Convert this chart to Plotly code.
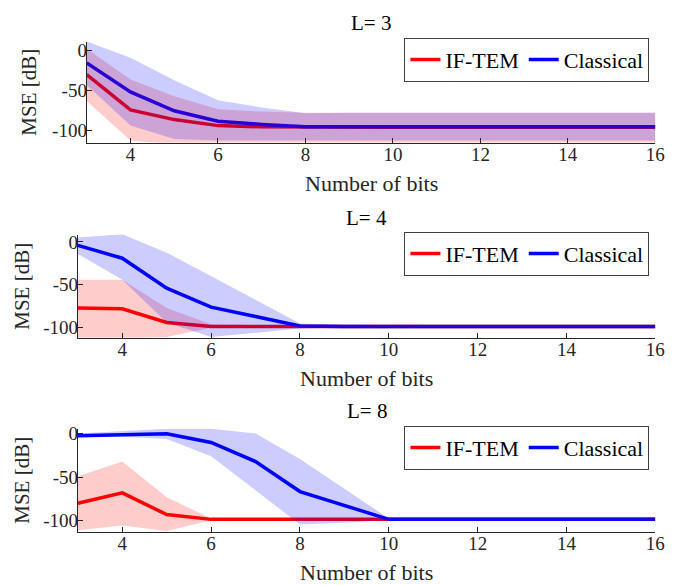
import plotly.graph_objects as go

bits = [3, 4, 5, 6, 7, 8, 9, 10, 11, 12, 13, 14, 15, 16]
panel_titles = ["L= 3", "L= 4", "L= 8"]
series_names = ["IF-TEM", "Classical"]
y_tick_vals = [-100, -50, 0]
y_tick_text = ["-100", "-50", "0"]
x_tick_vals = [4, 6, 8, 10, 12, 14, 16]

# L = 3
iftem_mean_L3 = [-30, -74, -86, -93.5, -95, -95.5, -95.5, -95.5, -95.5, -95.5, -95.5, -95.5, -95.5, -95.5]
iftem_upper_L3 = [2, -36, -57, -73, -76, -77.5, -77.5, -77.5, -77.5, -77.5, -77.5, -77.5, -77.5, -77.5]
iftem_lower_L3 = [-63, -112, -117, -117, -117, -117, -117, -117, -117, -117, -117, -117, -117, -117]
classical_mean_L3 = [-15.5, -51.5, -75, -88, -92, -95, -95, -95, -95, -95, -95, -95, -95, -95]
classical_upper_L3 = [11, -9, -37, -62, -71, -78, -77.5, -77.5, -77.5, -77.5, -77.5, -77.5, -77.5, -77.5]
classical_lower_L3 = [-43, -93.5, -110, -112, -112, -112, -112, -112, -112, -112, -112, -112, -112, -112]

# L = 4
iftem_mean_L4 = [-77, -78, -94, -98.5, -98.5, -98.5, -98.5, -98.5, -98.5, -98.5, -98.5, -98.5, -98.5, -98.5]
iftem_upper_L4 = [-44, -44, -77, -96, -97, -97, -97, -97, -97, -97, -97, -97, -97, -97]
iftem_lower_L4 = [-113, -113, -111, -100, -100, -100, -100, -100, -100, -100, -100, -100, -100, -100]
classical_mean_L4 = [-4, -19, -54, -76, -87, -98, -98.5, -98.5, -98.5, -98.5, -98.5, -98.5, -98.5, -98.5]
classical_upper_L4 = [5, 9, -12.5, -40, -67, -95, -96.5, -97, -97, -97, -97, -97, -97, -97]
classical_lower_L4 = [-14, -44, -94, -111, -106, -101, -100, -100, -100, -100, -100, -100, -100, -100]

# L = 8
iftem_mean_L8 = [-80, -68, -93, -98.5, -98.5, -98.5, -98.5, -98.5, -98.5, -98.5, -98.5, -98.5, -98.5, -98.5]
iftem_upper_L8 = [-49, -32, -73, -97.5, -97.5, -97.5, -97.5, -97.5, -97.5, -97.5, -97.5, -97.5, -97.5, -97.5]
iftem_lower_L8 = [-111, -105.5, -112, -99.5, -99.5, -99.5, -99.5, -99.5, -99.5, -99.5, -99.5, -99.5, -99.5, -99.5]
classical_mean_L8 = [-2.3, -1.1, 0, -10, -32, -66.5, -83, -98.5, -98.5, -98.5, -98.5, -98.5, -98.5, -98.5]
classical_upper_L8 = [0.4, 3.4, 5.7, 5.7, 0.4, -29, -63, -97.5, -97.5, -97.5, -97.5, -97.5, -97.5, -97.5]
classical_lower_L8 = [-4, -3.4, -6, -26, -65, -104.5, -102.5, -99.5, -99.5, -99.5, -99.5, -99.5, -99.5, -99.5]

y_ranges = [[-114.6, 11], [-111.5, 8.5], [-112.5, 5.9]]

panels = [
    (iftem_mean_L3, iftem_upper_L3, iftem_lower_L3, classical_mean_L3, classical_upper_L3, classical_lower_L3),
    (iftem_mean_L4, iftem_upper_L4, iftem_lower_L4, classical_mean_L4, classical_upper_L4, classical_lower_L4),
    (iftem_mean_L8, iftem_upper_L8, iftem_lower_L8, classical_mean_L8, classical_upper_L8, classical_lower_L8),
]

W, H = 688, 585
# pixel layout of each axes box: (left, right, top, bottom)
boxes = [(88, 665, 37, 139), (79, 665, 232, 336), (79, 665, 428, 532)]
title_y = [18, 215, 410]
xlabel_y = [180, 377, 573]
ylabel_x = [30, 22, 22]
legend_top = [33, 229, 425]

FONT = '"Liberation Serif", "Times New Roman", serif'
AX = "#262626"
RED = "#ff0000"
BLUE = "#0000ff"

fig = go.Figure()
layout = dict(
    width=W, height=H, margin=dict(l=0, r=0, t=0, b=0),
    paper_bgcolor="white", plot_bgcolor="white",
    font=dict(family=FONT, color=AX, size=19),
    annotations=[],
)

for i, (im, iu, il, cm, cu, cl) in enumerate(panels):
    n = "" if i == 0 else str(i + 1)
    xa, ya = "x" + n, "y" + n
    lg = "legend" + n
    # lines first
    fig.add_trace(go.Scatter(x=bits, y=im, mode="lines", name=series_names[0],
                             line=dict(color=RED, width=3.5), xaxis=xa, yaxis=ya, legend=lg))
    fig.add_trace(go.Scatter(x=bits, y=cm, mode="lines", name=series_names[1],
                             line=dict(color=BLUE, width=3.5), xaxis=xa, yaxis=ya, legend=lg))
    # translucent bands drawn on top
    fig.add_trace(go.Scatter(x=bits + bits[::-1], y=iu + il[::-1], fill="toself", mode="lines",
                             line=dict(width=0), fillcolor="rgba(255,0,0,0.2)", showlegend=False,
                             hoverinfo="skip", xaxis=xa, yaxis=ya))
    fig.add_trace(go.Scatter(x=bits + bits[::-1], y=cu + cl[::-1], fill="toself", mode="lines",
                             line=dict(width=0), fillcolor="rgba(0,0,255,0.2)", showlegend=False,
                             hoverinfo="skip", xaxis=xa, yaxis=ya))

    l, r, t, b = boxes[i]
    xd = [l / W, r / W]
    yd = [1 - b / H, 1 - t / H]
    layout["xaxis" + n] = dict(
        domain=xd, anchor=ya, range=[3, 16], tickvals=x_tick_vals,
        ticks="inside", ticklen=5, tickcolor=AX, showline=True, linecolor=AX, linewidth=1,
        showgrid=False, zeroline=False, tickfont=dict(size=19, family=FONT, color=AX),
        ticklabelstandoff=-5,
    )
    layout["yaxis" + n] = dict(
        domain=yd, anchor=xa, range=y_ranges[i], tickvals=y_tick_vals, ticktext=y_tick_text,
        ticks="inside", ticklen=5, tickcolor=AX, showline=True, linecolor=AX, linewidth=1,
        showgrid=False, zeroline=False, tickfont=dict(size=19, family=FONT, color=AX),
        ticklabelstandoff=-5,
    )
    layout[lg] = dict(
        orientation="h", x=659 / W, xanchor="right", y=1 - legend_top[i] / H, yanchor="top",
        bordercolor="#404040", borderwidth=1, bgcolor="white",
        font=dict(family=FONT, size=22, color="black"), itemwidth=30, tracegroupgap=0,
    )
    cx = (l + r) / 2 / W
    layout["annotations"].append(dict(text=panel_titles[i], x=cx, y=1 - title_y[i] / H,
                                      xref="paper", yref="paper", showarrow=False,
                                      xanchor="center", yanchor="middle",
                                      font=dict(size=21, family=FONT, color="black")))
    layout["annotations"].append(dict(text="Number of bits", x=cx, y=1 - xlabel_y[i] / H,
                                      xref="paper", yref="paper", showarrow=False,
                                      xanchor="center", yanchor="middle",
                                      font=dict(size=22, family=FONT, color=AX)))
    layout["annotations"].append(dict(text="MSE [dB]", x=ylabel_x[i] / W, y=1 - (t + b) / 2 / H,
                                      xref="paper", yref="paper", showarrow=False, textangle=-90,
                                      xanchor="center", yanchor="middle",
                                      font=dict(size=21, family=FONT, color=AX)))

fig.update_layout(**layout)
fig.write_html("out.html")
